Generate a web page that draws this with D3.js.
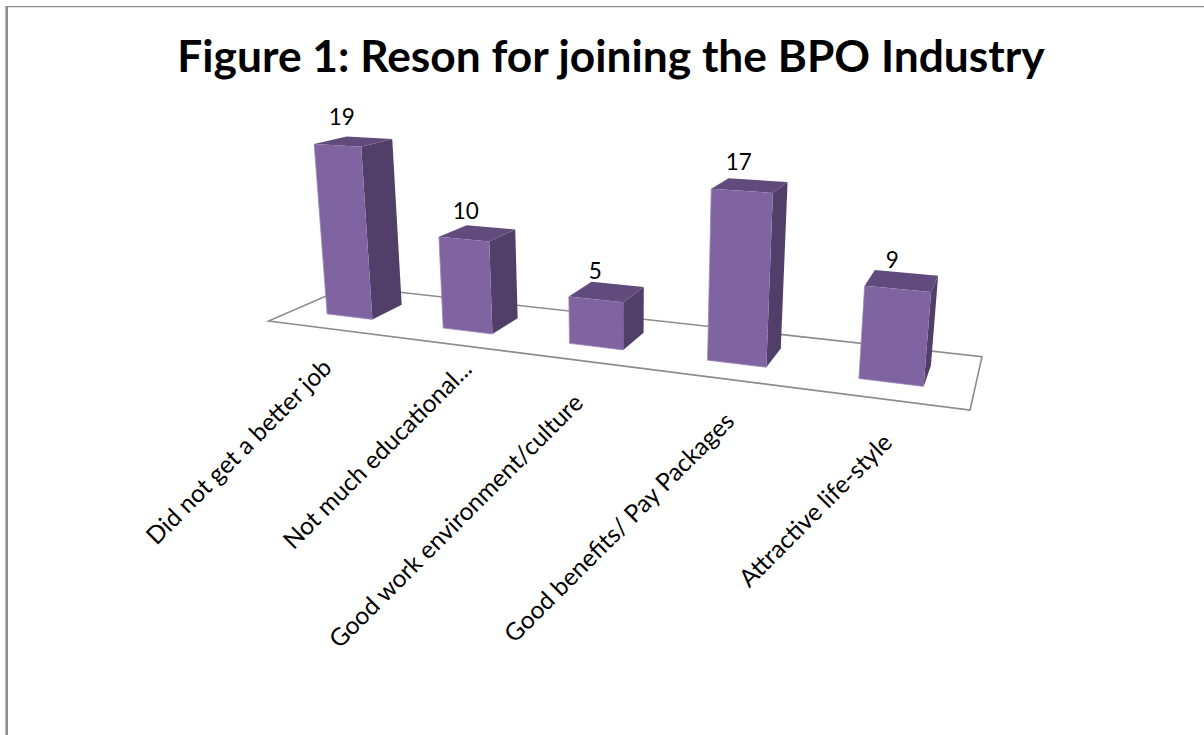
<!DOCTYPE html>
<html>
<head>
<meta charset="utf-8">
<script src="https://cdn.jsdelivr.net/npm/d3@7/dist/d3.min.js"></script>
<style>
html,body{margin:0;padding:0;background:#fff}
svg{display:block}
text{font-family:Lato,"Open Sans",sans-serif;fill:#000}
</style>
</head>
<body>
<svg id="chart" width="1204" height="735"></svg>
<script>
const categories = [
  "Did not get a better job",
  "Not much educational...",
  "Good work environment/culture",
  "Good benefits/ Pay Packages",
  "Attractive life-style"
];
const values = [19, 10, 5, 17, 9];
const titleText = "Figure 1: Reson for joining the BPO Industry";

const floorCorners = {fl:[268.5,321], fr:[970,410], br:[982,356.7], bl:[348,286.5]};
const verticalVanish = [624, 4198];
const colors = {front:"#8064a2", side:"#523f69", top:"#614b7c", edge:"#9d8ab8", floor:"#8c8c8c", frame:"#8f8f8f"};
// Per-label fine adjustment of the rotated category text
const labelShift = [[-6,-3],[13,-17],[-8,0],[-2,0],[-4,1]];

// Unit-square to floor homography
function floorMatrix(c){
  const [x0,y0]=c.fl,[x1,y1]=c.fr,[x2,y2]=c.br,[x3,y3]=c.bl;
  const dx1=x1-x2,dx2=x3-x2,sx=x0-x1+x2-x3,dy1=y1-y2,dy2=y3-y2,sy=y0-y1+y2-y3;
  const det=dx1*dy2-dx2*dy1;
  const g=(sx*dy2-dx2*sy)/det,h=(dx1*sy-sx*dy1)/det;
  return {a:x1-x0+g*x1,b:x3-x0+h*x3,c:x0,d:y1-y0+g*y1,e:y3-y0+h*y3,f:y0,g,h};
}
const M = floorMatrix(floorCorners);

const across = d3.scaleBand().domain(categories).range([0,1]).paddingInner(0.6).paddingOuter(0.3);
const depth = d3.scaleLinear().domain([0,1]).range([0.3,0.7]);
const lift = d3.scaleLinear().domain([0,19]).range([0,0.0428]);

// Perspective projection of floor position (u,v) raised by value
function project(u,v,val){
  const W=1+M.g*u+M.h*v, X=M.a*u+M.b*v+M.c, Y=M.d*u+M.e*v+M.f, t=lift(val);
  return [(X-t*verticalVanish[0])/(W-t),(Y-t*verticalVanish[1])/(W-t)];
}
const line = d3.line().curve(d3.curveLinearClosed);
const svg = d3.select("#chart");

// Frame
svg.append("line").attr("x1",5.4).attr("x2",1204).attr("y1",6.6).attr("y2",6.6)
  .attr("stroke",colors.frame).attr("stroke-width",1.4);
svg.append("line").attr("x1",6.7).attr("x2",6.7).attr("y1",6).attr("y2",735)
  .attr("stroke",colors.frame).attr("stroke-width",2.6);

// Title
svg.append("text").attr("x",611).attr("y",71.5).attr("text-anchor","middle")
  .attr("font-size",44.3).attr("font-weight",700).text(titleText);

// Floor
svg.append("path")
  .attr("d",line([project(0,0,0),project(1,0,0),project(1,1,0),project(0,1,0)]))
  .attr("fill","#fff").attr("stroke",colors.floor).attr("stroke-width",1.6);

// Bars
const bars = svg.selectAll("g.bar").data(categories.map((c,i)=>({c,v:values[i],i}))).join("g").attr("class","bar");
bars.each(function(d){
  const g=d3.select(this), u0=across(d.c), u1=u0+across.bandwidth(), v0=depth(0), v1=depth(1);
  g.append("path").attr("fill",colors.side)
    .attr("d",line([project(u1,v0,0),project(u1,v1,0),project(u1,v1,d.v),project(u1,v0,d.v)]));
  g.append("path").attr("fill",colors.top)
    .attr("d",line([project(u0,v0,d.v),project(u1,v0,d.v),project(u1,v1,d.v),project(u0,v1,d.v)]));
  g.append("path").attr("fill",colors.front)
    .attr("d",line([project(u0,v0,0),project(u1,v0,0),project(u1,v0,d.v),project(u0,v0,d.v)]));
  g.append("path").attr("fill","none").attr("stroke",colors.edge).attr("stroke-width",0.8)
    .attr("d",d3.line()([project(u0,v0,d.v),project(u0,v0,0),project(u1,v0,0)]));
});

// Value labels
bars.append("text").attr("text-anchor","middle").attr("font-size",22.5)
  .attr("transform",d=>{
    const uc=across(d.c)+across.bandwidth()/2, p=project(uc,depth(0),d.v);
    return `translate(${p[0]+5.5-12*uc},${p[1]-20.5})`;
  }).text(d=>d.v);

// Category labels
bars.append("text").attr("text-anchor","end").attr("font-size",24.5)
  .attr("transform",d=>{
    const uc=across(d.c)+across.bandwidth()/2, p=project(uc,0,0), s=labelShift[d.i];
    return `translate(${p[0]+14+s[0]},${p[1]+44+s[1]}) rotate(-45)`;
  }).text(d=>d.c);
</script>
</body>
</html>
